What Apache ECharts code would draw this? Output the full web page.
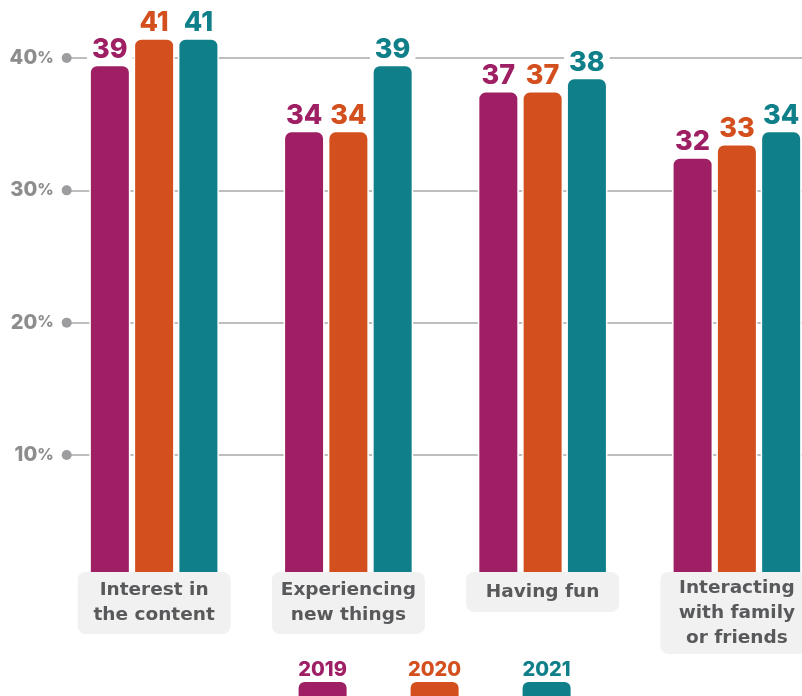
<!DOCTYPE html>
<html><head><meta charset="utf-8">
<script src="https://cdn.jsdelivr.net/npm/echarts@6/dist/echarts.min.js"></script>
<style>html,body{margin:0;padding:0;background:#fff}#c{width:802px;height:696px}</style>
</head><body><div id="c"></div>
<script>
const categories = ['Interest in\nthe content', 'Experiencing\nnew things', 'Having fun', 'Interacting\nwith family\nor friends'];
const years = ['2019', '2020', '2021'];
const values2019 = [39, 34, 37, 32];
const values2020 = [41, 34, 37, 33];
const values2021 = [41, 39, 38, 34];
const tickLabels = [10, 20, 30, 40];

const seriesValues = [values2019, values2020, values2021];
const colors = ['#9e1f63', '#d3501e', '#0f7f89'];
const FONT = 'Inter';
const CAT_FONT = 'DejaVu Sans';
const HEAVY = 800;

const chart = echarts.init(document.getElementById('c'));

const catData = categories.map(c => {
  const n = c.split('\n').length;
  const pad = n === 1 ? [8, 0, 7, 0] : (n === 2 ? [6, 0, 6, 0] : [4, 0, 3, 0]);
  return { value: c, textStyle: { padding: pad } };
});

const legendRich = {};
years.forEach((y, i) => {
  legendRich['y' + y] = { color: colors[i], fontSize: 20, fontWeight: HEAVY, fontFamily: FONT, width: 56, align: 'center', lineHeight: 22 };
  legendRich['b' + y] = { backgroundColor: colors[i], width: 48, height: 24, lineHeight: 26, borderRadius: 6, align: 'center' };
});

const gridTop = -74.3, gridBottom = 108.7;

const option = {
  backgroundColor: '#ffffff',
  animation: false,
  grid: [
    { left: 57, right: -32, top: gridTop, bottom: gridBottom, outerBoundsMode: 'none', containLabel: false },
    { left: 66.7, right: 0, top: gridTop, bottom: gridBottom, outerBoundsMode: 'none', containLabel: false }
  ],
  xAxis: [
    {
      type: 'category', gridIndex: 0, data: catData, z: 6,
      axisLine: { show: false }, axisTick: { show: false },
      axisLabel: {
        interval: 0, margin: -15.3, color: '#58595b', fontSize: 18.5, fontWeight: 'bold', fontFamily: CAT_FONT,
        lineHeight: 25, width: 153, align: 'center', backgroundColor: '#f2f1f2', borderRadius: 8
      }
    },
    { type: 'category', gridIndex: 1, data: categories, show: false }
  ],
  yAxis: [
    { type: 'value', gridIndex: 0, min: -0.5, max: 49.5, show: false, splitLine: { show: false } },
    {
      type: 'value', gridIndex: 1, min: 0, max: 50, interval: 10,
      axisLine: { show: false }, axisTick: { show: false },
      splitLine: { lineStyle: { color: ['transparent', '#a8a8a8', '#a8a8a8', '#a8a8a8', '#a8a8a8', 'transparent'], width: 1.5 } },
      axisLabel: {
        margin: -5,
        formatter: v => tickLabels.includes(v) ? '{n|' + v + '}{p|%}{g|}{d|}' : '',
        rich: {
          n: { fontSize: 20, fontWeight: HEAVY, color: '#8d8d8f', fontFamily: FONT, verticalAlign: 'middle' },
          p: { fontSize: 16, fontWeight: HEAVY, color: '#8d8d8f', fontFamily: FONT, verticalAlign: 'middle' },
          g: { width: 8, height: 10 },
          d: { width: 10, height: 10, borderRadius: 5, backgroundColor: '#9d9d9f', verticalAlign: 'middle' }
        }
      }
    }
  ],
  legend: {
    data: years, left: 283.6, top: 655, itemWidth: 0, itemHeight: 0, itemGap: 50,
    selectedMode: false, icon: 'rect', itemStyle: { opacity: 0 },
    formatter: name => '{y' + name + '|' + name + '}\n{b' + name + '|}',
    textStyle: { rich: legendRich }
  },
  series: years.map((y, i) => ({
    type: 'bar', name: y, xAxisIndex: 0, yAxisIndex: 0,
    data: seriesValues[i], barWidth: 41, barGap: '8%',
    itemStyle: { color: colors[i], borderColor: '#ffffff', borderWidth: 1.5, borderRadius: [7, 7, 0, 0] },
    label: {
      show: true, position: 'top', distance: 2, color: colors[i],
      fontSize: 27, fontWeight: HEAVY, fontFamily: FONT,
      backgroundColor: '#ffffff', padding: [0, 5, 0, 5], lineHeight: 26
    }
  }))
};
chart.setOption(option);
</script></body></html>
